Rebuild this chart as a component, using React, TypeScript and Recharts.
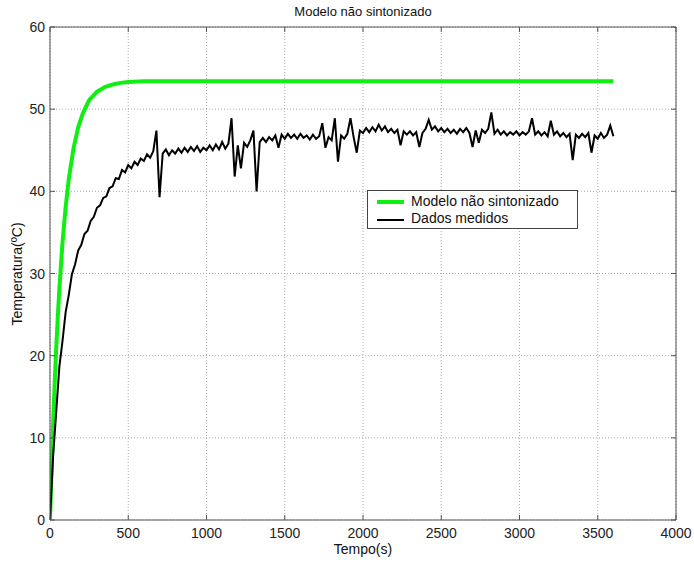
import { LineChart, Line, XAxis, YAxis, CartesianGrid, ReferenceLine } from "recharts"

const TITLE = "Modelo não sintonizado"
const X_LABEL = "Tempo(s)"
const Y_LABEL = "Temperatura(ºC)"
const SERIES_MODEL = "Modelo não sintonizado"
const SERIES_DATA = "Dados medidos"

const X_TICKS = [0, 500, 1000, 1500, 2000, 2500, 3000, 3500, 4000]
const Y_TICKS = [0, 10, 20, 30, 40, 50, 60]

// model response
const modelTimes = [0, 10, 20, 30, 40, 50, 60, 80, 100, 120, 150, 180, 210, 250, 300, 350, 400, 450, 500, 600, 800, 1200, 1600, 2000, 2400, 2800, 3200, 3600]
const modelTemps = [0, 6.3, 11.8, 16.7, 21.0, 24.8, 28.2, 33.8, 38.1, 41.5, 45.2, 47.8, 49.5, 51.1, 52.1, 52.7, 53.0, 53.2, 53.3, 53.4, 53.4, 53.4, 53.4, 53.4, 53.4, 53.4, 53.4, 53.4]

// measured data, one sample every 20 s from 0 to 3600
const measuredStep = 20
const measuredTemps = [
  0, 7.8, 13.2, 18.7, 21.8, 25.3, 27.4, 29.9, 31.1, 32.8,
  33.5, 34.8, 35.2, 36.4, 36.9, 38.0, 38.3, 39.2, 39.4, 40.4,
  40.6, 41.6, 41.5, 42.6, 42.3, 43.2, 42.8, 43.6, 43.2, 44.0,
  43.7, 44.5, 44.1, 44.9, 47.4, 39.3, 44.6, 45.1, 44.4, 45.0,
  44.6, 45.2, 44.7, 45.3, 44.8, 45.4, 44.9, 45.5, 44.8, 45.3,
  45.0, 45.6, 45.0, 45.7, 45.1, 46.0, 45.2, 45.8, 48.9, 41.8,
  45.6, 42.8, 45.9, 45.4, 46.2, 47.4, 40.0, 46.0, 46.5, 46.0,
  46.6, 46.2, 46.8, 45.3, 46.9, 46.4, 47.0, 46.5, 46.9, 46.4,
  47.0, 46.5, 46.8, 46.3, 46.9, 46.4, 46.7, 48.3, 45.3, 46.6,
  46.2, 48.9, 43.6, 46.8, 46.4, 47.0, 48.9, 46.6, 44.7, 47.4,
  47.1, 47.7, 47.2, 47.8, 47.3, 48.1, 47.4, 47.9, 47.2, 47.6,
  47.1, 47.5, 45.6, 47.3, 46.9, 47.3, 46.8, 47.2, 45.4, 47.1,
  47.6, 48.7, 47.5, 47.9, 47.3, 47.7, 47.2, 47.6, 47.1, 47.5,
  47.0, 47.6, 47.2, 47.7, 47.1, 45.4, 47.4, 45.9, 47.5, 47.1,
  47.6, 49.6, 47.0, 47.5, 46.9, 47.3, 46.8, 47.2, 46.9, 47.3,
  46.8, 47.2, 46.9, 47.3, 48.9, 46.9, 47.3, 46.8, 47.2, 46.7,
  48.6, 46.9, 47.3, 46.7, 47.1, 46.6, 47.0, 43.8, 46.9, 46.5,
  47.0, 46.6, 47.1, 44.7, 46.8, 46.4, 47.1, 46.5, 46.9, 48.0,
  46.7,
]

const modelData = modelTimes.map((t, i) => ({ t, v: modelTemps[i] }))
const measuredData = measuredTemps.map((v, i) => ({ t: i * measuredStep, v }))

const GREEN = "#11ee11"
const AXIS = "#555"
const FONT = "'Liberation Sans', Arial, sans-serif"

// plot box (from chart margins)
const LEFT = 50
const RIGHT = 676
const TOP = 27
const BOTTOM = 520

function XTick(props: any) {
  const { x, payload } = props
  return (
    <g>
      <line x1={x} x2={x} y1={BOTTOM} y2={BOTTOM - 5} stroke={AXIS} />
      <line x1={x} x2={x} y1={TOP} y2={TOP + 5} stroke={AXIS} />
      <text x={x} y={BOTTOM + 18} textAnchor="middle" fontSize={14} fill="#222" fontFamily={FONT}>
        {payload.value}
      </text>
    </g>
  )
}

function YTick(props: any) {
  const { y, payload } = props
  return (
    <g>
      <line x1={LEFT} x2={LEFT + 5} y1={y} y2={y} stroke={AXIS} />
      <line x1={RIGHT} x2={RIGHT - 5} y1={y} y2={y} stroke={AXIS} />
      <text x={LEFT - 5} y={y + 5} textAnchor="end" fontSize={14} fill="#222" fontFamily={FONT}>
        {payload.value}
      </text>
    </g>
  )
}

export default function App() {
  return (
    <div style={{ position: "absolute", left: 0, top: 0, width: 694, height: 563, background: "#fff", fontFamily: FONT }}>
      <LineChart width={694} height={563} margin={{ top: 27, right: 18, bottom: 13, left: 10 }}>
        <CartesianGrid stroke="#aaa" strokeDasharray="1 2" />
        <XAxis
          type="number"
          dataKey="t"
          domain={[0, 4000]}
          ticks={X_TICKS}
          height={30}
          tickSize={0}
          tickMargin={0}
          tickLine={false}
          tick={<XTick />}
          stroke={AXIS}
          allowDataOverflow
        />
        <YAxis
          type="number"
          domain={[0, 60]}
          ticks={Y_TICKS}
          width={40}
          tickSize={0}
          tickMargin={0}
          tickLine={false}
          tick={<YTick />}
          stroke={AXIS}
          allowDataOverflow
        />
        <ReferenceLine y={60} stroke={AXIS} />
        <ReferenceLine x={4000} stroke={AXIS} />
        <Line
          data={modelData}
          dataKey="v"
          name={SERIES_MODEL}
          stroke={GREEN}
          strokeWidth={4}
          dot={false}
          isAnimationActive={false}
        />
        <Line
          data={measuredData}
          dataKey="v"
          name={SERIES_DATA}
          stroke="#000"
          strokeWidth={2}
          strokeLinejoin="miter"
          dot={false}
          isAnimationActive={false}
        />
      </LineChart>

      <div style={{ position: "absolute", left: LEFT, width: RIGHT - LEFT, top: 4, textAlign: "center", fontSize: 13, color: "#111" }}>
        {TITLE}
      </div>
      <div style={{ position: "absolute", left: LEFT, width: RIGHT - LEFT, top: 541, textAlign: "center", fontSize: 14, color: "#111" }}>
        {X_LABEL}
      </div>
      <div
        style={{
          position: "absolute",
          left: 17,
          top: (TOP + BOTTOM) / 2,
          transform: "translate(-50%, -50%) rotate(-90deg)",
          whiteSpace: "nowrap",
          fontSize: 14,
          color: "#111",
        }}
      >
        {Y_LABEL}
      </div>

      <div
        style={{
          position: "absolute",
          left: 367,
          top: 190,
          width: 209,
          height: 37,
          border: "1px solid #444",
          background: "#fff",
          fontSize: 14,
          color: "#111",
        }}
      >
        <div style={{ position: "absolute", left: 9, top: 9, width: 27, height: 4, background: GREEN }} />
        <div style={{ position: "absolute", left: 43, top: 2 }}>{SERIES_MODEL}</div>
        <div style={{ position: "absolute", left: 9, top: 28, width: 27, height: 1.5, background: "#000" }} />
        <div style={{ position: "absolute", left: 43, top: 19 }}>{SERIES_DATA}</div>
      </div>
    </div>
  )
}
